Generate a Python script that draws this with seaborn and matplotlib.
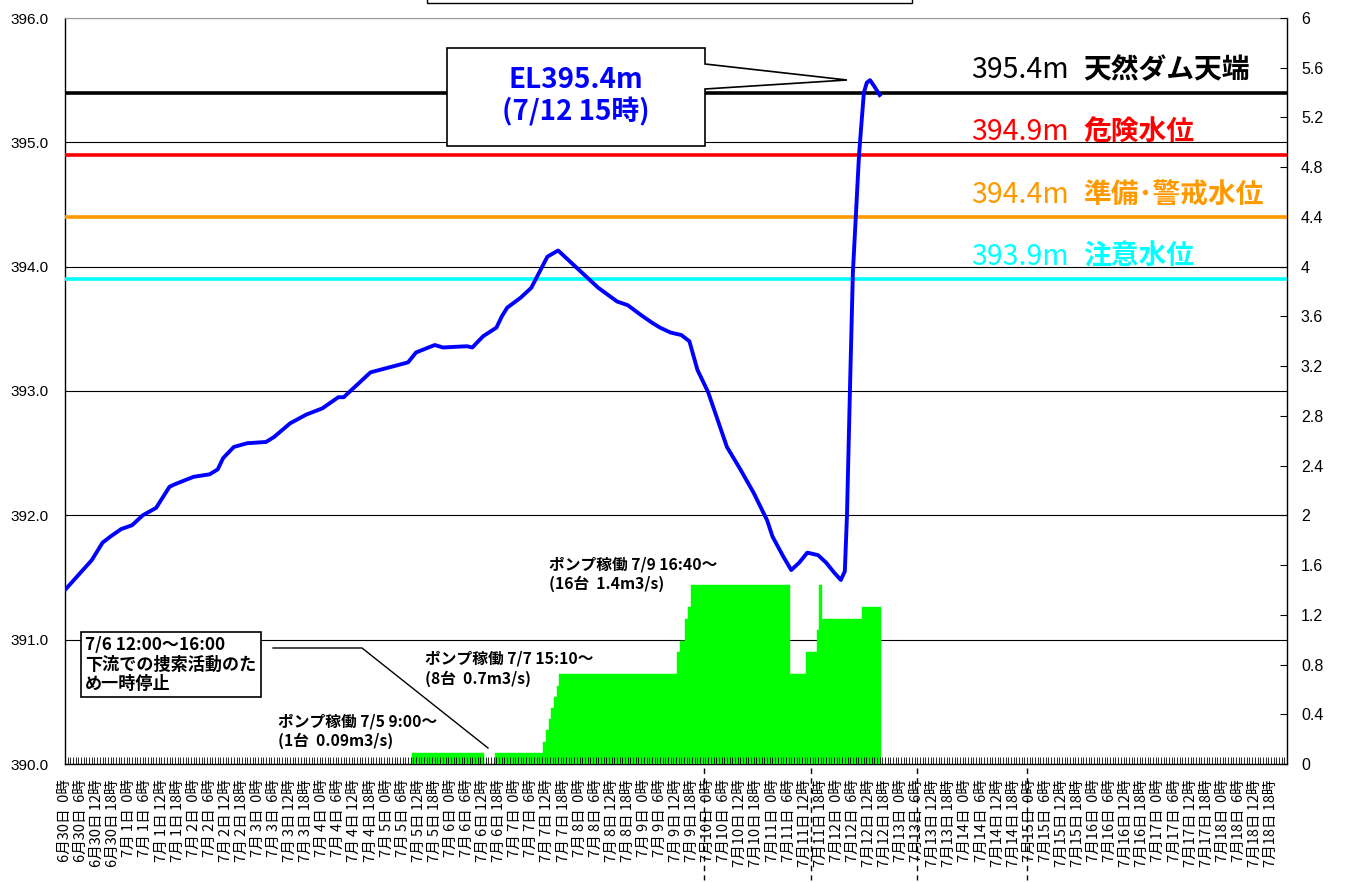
import numpy as np
import pandas as pd
import matplotlib
matplotlib.use("Agg")
import matplotlib.pyplot as plt
import matplotlib.transforms as mtransforms
from matplotlib.patches import Polygon, Rectangle
from matplotlib.lines import Line2D
import seaborn as sns

plt.rcParams['font.family'] = ['Noto Sans CJK JP', 'DejaVu Sans']

# ---------------- data ----------------
# water level (hours since 6/30 0:00, EL m)
level_hours = [0, 10, 14, 17, 21, 25, 29, 34, 39, 41, 48, 54, 57, 59, 63, 68, 75, 78,
               84, 90, 96, 102, 104, 110, 114, 121, 128, 131, 138, 141, 150, 152, 156,
               161, 163, 165, 170, 174, 180, 184, 190, 195, 199, 206, 210, 215, 219,
               222, 226, 230, 233, 236, 240, 247, 252, 257, 262, 264, 268, 271, 274,
               277, 281, 284, 287, 289.5, 291, 291.8, 292.9, 294.0, 296.3, 298.1,
               299.2, 300.4, 302, 304]
level_values = [391.40, 391.64, 391.78, 391.83, 391.89, 391.92, 392.00, 392.06, 392.23,
                392.25, 392.31, 392.33, 392.37, 392.46, 392.55, 392.58, 392.59, 392.63,
                392.74, 392.81, 392.86, 392.95, 392.95, 393.07, 393.15, 393.19, 393.23,
                393.31, 393.37, 393.35, 393.36, 393.35, 393.44, 393.51, 393.60, 393.67,
                393.75, 393.83, 394.08, 394.13, 394.01, 393.91, 393.83, 393.72, 393.69,
                393.61, 393.55, 393.51, 393.47, 393.45, 393.40, 393.17, 392.99, 392.55,
                392.37, 392.18, 391.96, 391.83, 391.67, 391.56, 391.62, 391.70, 391.68,
                391.62, 391.54, 391.48, 391.55, 392.00, 393.00, 393.95, 394.90, 395.40,
                395.48, 395.50, 395.45, 395.38]

# pump discharge (m3/s), hourly steps: start hour, end hour (inclusive), flow
pump_start = [130, 161, 179, 180, 181, 182, 183, 184, 185, 229, 230, 232, 233, 234,
              271, 277, 281, 282, 283, 298]
pump_end = [156, 178, 179, 180, 181, 182, 183, 184, 228, 229, 231, 232, 233, 270,
            276, 280, 281, 282, 297, 304]
pump_flow = [0.09, 0.09, 0.18, 0.27, 0.36, 0.45, 0.54, 0.63, 0.72, 0.90, 0.99, 1.17,
             1.26, 1.44, 0.72, 0.90, 1.08, 1.44, 1.17, 1.26]

# reference levels
threshold_levels = [395.4, 394.9, 394.4, 393.9]
threshold_names = ["天然ダム天端", "危険水位", "準備･警戒水位", "注意水位"]
threshold_colors = ["#000000", "#ff0000", "#ff9900", "#00ffff"]

# pump annotations (hour, flow at top of text)
pump_note_hours = [79.5, 134.3, 180.6]
pump_note_flow = [0.41, 0.91, 1.67]
pump_note_texts = ["ポンプ稼働 7/5 9:00～\n(1台  0.09m3/s)",
                   "ポンプ稼働 7/7 15:10～\n(8台  0.7m3/s)",
                   "ポンプ稼働 7/9 16:40～\n(16台  1.4m3/s)"]

peak_text = "EL395.4m\n(7/12 15時)"
stop_text = "7/6 12:00～16:00\n下流での捜索活動のた\nめ一時停止"

marker_hours = [238.5, 278.5, 318, 359]

start = pd.Timestamp("2018-06-30 00:00")
tick_hours = list(range(0, 451, 6))
tick_labels = []
for h in tick_hours:
    t = start + pd.Timedelta(hours=h)
    tick_labels.append(f"{t.month}月{t.day:2d}日 {t.hour:2d}時")

# expand pump steps to hourly bars
bar_hours = np.concatenate([np.arange(s, e + 1) for s, e in zip(pump_start, pump_end)])
bar_flow = np.concatenate([np.full(e - s + 1, f) for s, e, f in zip(pump_start, pump_end, pump_flow)])
pump_df = pd.DataFrame({"hour": bar_hours, "flow": bar_flow})
level_df = pd.DataFrame({"hour": level_hours, "level": level_values})

# ---------------- figure ----------------
W, H = 1351, 882
fig = plt.figure(figsize=(W / 100, H / 100), dpi=100)
L, R, T, B = 65, 1287, 18, 764
ax = fig.add_axes([L / W, 1 - B / H, (R - L) / W, (B - T) / H])
ax2 = ax.twinx()
ax3 = ax.twinx()
ax2.set_zorder(ax.get_zorder() + 1)
ax3.set_zorder(ax.get_zorder() + 2)
ax2.patch.set_visible(False)
ax3.patch.set_visible(False)

# bars (right axis)
sns.barplot(data=pump_df, x="hour", y="flow", native_scale=True, width=1.0,
            color="#00ff00", saturation=1, errorbar=None, ax=ax2,
            edgecolor="#00ff00", linewidth=0.3)

# level line and thresholds
for v, c in zip(threshold_levels, threshold_colors):
    ax3.axhline(v, color=c, lw=2.6, zorder=2)
sns.lineplot(data=level_df, x="hour", y="level", color="#0000ff", lw=2.8, ax=ax3,
             zorder=3)

for v, n, c in zip(threshold_levels, threshold_names, threshold_colors):
    ax3.text(338, v + 0.18, f"{v}m", color=c, fontsize=20.5, ha="left",
             va="center", zorder=4)
    ax3.text(380, v + 0.18, n, color=c, fontsize=20, fontweight="bold",
             ha="left", va="center", zorder=4)

# limits
for a in (ax, ax2, ax3):
    a.set_xlim(0, 456)
ax.set_ylim(390, 396)
ax3.set_ylim(390, 396)
ax2.set_ylim(0, 6)

# grid on base axis
ax.set_yticks(np.arange(390, 396.01, 1.0))
ax.set_yticklabels([f"{v:.1f}" for v in np.arange(390, 396.01, 1.0)],
                   fontfamily="Liberation Sans", fontsize=11)
ax.yaxis.grid(True, color="black", lw=0.8)
ax.xaxis.grid(False)
ax.tick_params(axis="y", length=0, pad=12)

rt = np.arange(0, 6.001, 0.4)
ax2.set_yticks(rt)
ax2.set_yticklabels([f"{round(v, 1):g}" for v in rt], fontfamily="Liberation Sans",
                    fontsize=11.5)
ax2.tick_params(axis="y", direction="in", length=5, width=0.8, pad=10)
ax2.set_ylabel("")

# x ticks drawn on top layer
ax.set_xticks(tick_hours)
ax.set_xticklabels(tick_labels)
ax.set_xticks(np.arange(0, 457, 1), minor=True)
ax.tick_params(axis="x", which="both", bottom=False, labelbottom=False)
ax3.xaxis.set_visible(True)
ax3.tick_params(axis="x", which="both", bottom=True, labelbottom=True,
                direction="in", length=5, width=0.6, pad=11, labelrotation=90,
                labelsize=10.5)
for lab in ax3.get_xticklabels():
    lab.set_fontfamily(["Noto Sans CJK JP", "DejaVu Sans"])
ax3.yaxis.set_visible(False)

for a in (ax, ax2, ax3):
    a.set_xlabel("")
    a.set_ylabel("")
for a in (ax2, ax3):
    for s in a.spines.values():
        s.set_visible(False)
for s in ["left", "right", "bottom"]:
    ax.spines[s].set_color("black")
    ax.spines[s].set_linewidth(1.0)
ax.spines["top"].set_color("#999999")

# pump notes
for hx, fy_, txt in zip(pump_note_hours, pump_note_flow, pump_note_texts):
    ax2.text(hx, fy_, txt, fontsize=11.3, fontweight="bold", ha="left", va="top",
             linespacing=1.25, zorder=5)

# stop note box and connector
def fx(px):
    return (px - L) / (R - L)

def fy(py):
    return (B - py) / (B - T)

ax3.text(fx(85), fy(636), stop_text, transform=ax3.transAxes, fontsize=12.3,
         fontweight="bold", ha="left", va="top", linespacing=1.1, zorder=6,
         bbox=dict(boxstyle="square,pad=0.25", fc="white", ec="black", lw=1.2))
ax3.add_line(Line2D([fx(273), fx(362), fx(488)], [fy(648), fy(648), fy(748)],
                    transform=ax3.transAxes, color="black", lw=1, zorder=6))

# peak callout
pts = [(447, 48), (705, 48), (705, 64), (847, 80), (705, 89), (705, 146), (447, 146)]
ax3.add_patch(Polygon([(fx(x), fy(y)) for x, y in pts], closed=True,
                      transform=ax3.transAxes, fc="white", ec="black", lw=1.2,
                      zorder=6, clip_on=False))
ax3.text(fx(576), fy(96), peak_text, transform=ax3.transAxes, ha="center",
         va="center", color="#0000ff", fontsize=20, fontweight="bold",
         linespacing=1.15, zorder=7)

# dashed markers in the label area
trans = mtransforms.blended_transform_factory(ax3.transData, ax3.transAxes)
for mh in marker_hours:
    ax3.add_line(Line2D([mh, mh], [fy(768), fy(880)], transform=trans, color="black",
                        lw=1, linestyle=(0, (4, 3)), clip_on=False))

# title box remnant at top
fig.add_artist(Rectangle((427 / W, 1 - 3 / H), 485 / W, 0.05,
                         transform=fig.transFigure, fill=False, ec="black", lw=1))

ax.set_xlim(0, 456)
fig.savefig("out.png", dpi=100)
